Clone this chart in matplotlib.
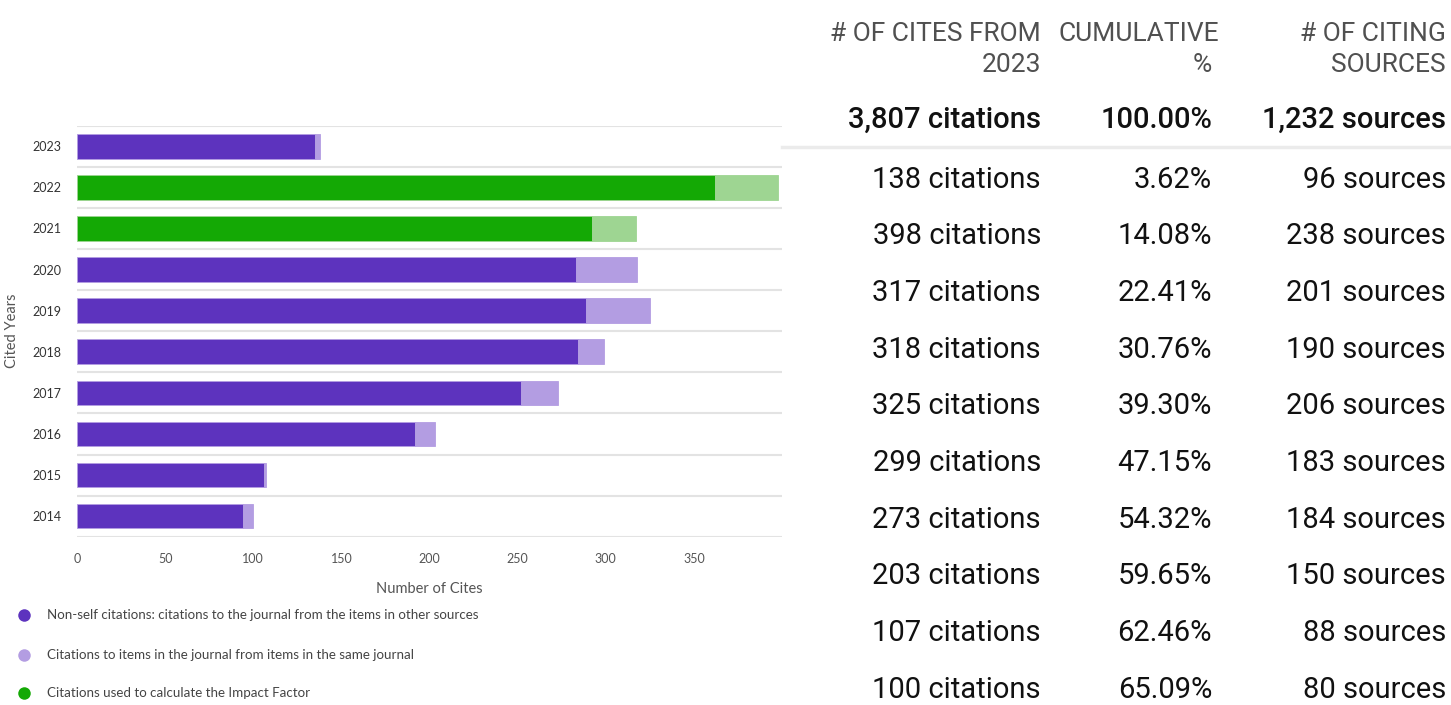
import matplotlib
matplotlib.use("Agg")
import matplotlib.pyplot as plt
from matplotlib.lines import Line2D

# ---- data ----
years = ["2023", "2022", "2021", "2020", "2019", "2018", "2017", "2016", "2015", "2014"]
non_self = [135, 362, 292, 283, 289, 284, 252, 192, 106, 94]
self_cites = [3, 36, 25, 35, 36, 15, 21, 11, 1, 6]
if_years = ["2022", "2021"]
x_ticks = [0, 50, 100, 150, 200, 250, 300, 350]

legend_labels = [
    "Non-self citations: citations to the journal from the items in other sources",
    "Citations to items in the journal from items in the same journal",
    "Citations used to calculate the Impact Factor",
]

table_headers = [["# OF CITES FROM", "2023"], ["CUMULATIVE", "%"], ["# OF CITING", "SOURCES"]]
total_row = ["3,807 citations", "100.00%", "1,232 sources"]
row_cites = [138, 398, 317, 318, 325, 299, 273, 203, 107, 100]
row_cumulative = ["3.62%", "14.08%", "22.41%", "30.76%", "39.30%", "47.15%", "54.32%", "59.65%", "62.46%", "65.09%"]
row_sources = [96, 238, 201, 190, 206, 183, 184, 150, 88, 80]

# ---- style ----
W, H = 1451, 705
PURPLE = "#5d33be"
PURPLE_L = "#b39de2"
GREEN = "#14a905"
GREEN_L = "#9ed592"
GRID = "#e3e3e3"

fig = plt.figure(figsize=(W / 100, H / 100), dpi=100)

def fx(x):
    return x / W

def fy(y):
    return 1 - y / H

ax_left, ax_right, ax_top, ax_bot = 77, 782, 125.7, 536.7
ax = fig.add_axes([fx(ax_left), fy(ax_bot), (ax_right - ax_left) / W, (ax_bot - ax_top) / H])

n = len(years)
ypos = list(range(n))
c_main = [GREEN if y in if_years else PURPLE for y in years]
c_self = [GREEN_L if y in if_years else PURPLE_L for y in years]
ax.barh(ypos, non_self, height=0.6, color=c_main, edgecolor=c_self, linewidth=0.6, zorder=3)
ax.barh(ypos, self_cites, left=non_self, height=0.6, color=c_self, edgecolor=c_self, linewidth=0.6, zorder=3)

ax.set_xlim(0, 400)
ax.set_ylim(n - 0.5, -0.5)
for b in range(n + 1):
    ax.axhline(b - 0.5, color=GRID, linewidth=1.5, zorder=1)
for s in ax.spines.values():
    s.set_visible(False)
ax.set_yticks(ypos)
ax.set_yticklabels(years, fontfamily="Lato", fontsize=9, color="#333333")
ax.set_xticks(x_ticks)
ax.set_xticklabels([str(t) for t in x_ticks], fontfamily="Lato", fontsize=9, color="#555555")
ax.tick_params(axis="both", length=0)
ax.tick_params(axis="y", pad=11)
ax.tick_params(axis="x", pad=12)
ax.set_xlabel("Number of Cites", fontfamily="Lato", fontsize=10.5, color="#555555", labelpad=12)
ax.set_ylabel("Cited Years", fontfamily="Lato", fontsize=10.5, color="#555555", labelpad=10)

# legend
leg_colors = [PURPLE, PURPLE_L, GREEN]
leg_y = [615, 655, 693]
for col, lab, y in zip(leg_colors, legend_labels, leg_y):
    fig.add_artist(Line2D([fx(24)], [fy(y)], marker="o", markersize=9, color=col,
                          markeredgewidth=0, linestyle="none", transform=fig.transFigure))
    fig.text(fx(47), fy(y), lab, fontfamily="Lato", fontsize=9.65, color="#444444",
             ha="left", va="center")

# ---- table ----
col_right = [1041, 1212, 1446]
hdr_right = [1041, 1219, 1446]
for (l1, l2), xr, xr2 in zip(table_headers, hdr_right, col_right):
    fig.text(fx(xr), fy(41), l1, fontfamily="Roboto", fontsize=19, color="#505050", ha="right", va="baseline")
    x2 = xr2 if l2 == "%" else xr
    fig.text(fx(x2), fy(72), l2, fontfamily="Roboto", fontsize=19, color="#505050", ha="right", va="baseline")

for txt, xr in zip(total_row, col_right):
    fig.text(fx(xr), fy(128), txt, fontfamily="Roboto", fontweight="medium", fontsize=21,
             color="#111111", ha="right", va="baseline")

fig.add_artist(Line2D([fx(782), fx(1451)], [fy(147), fy(147)], color="#ebebeb", linewidth=2.5,
                      transform=fig.transFigure))

for i in range(len(row_cites)):
    base = 187.5 + i * 56.7
    vals = [f"{row_cites[i]} citations", row_cumulative[i], f"{row_sources[i]} sources"]
    for txt, xr in zip(vals, col_right):
        fig.text(fx(xr), fy(base), txt, fontfamily="Roboto", fontsize=21, color="#111111",
                 ha="right", va="baseline")

fig.savefig("out.png", dpi=100)
